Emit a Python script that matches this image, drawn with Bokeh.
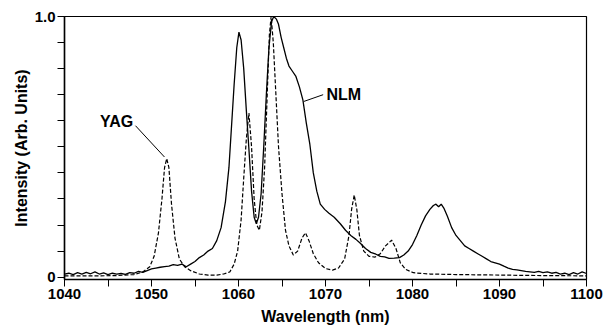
from bokeh.plotting import figure
from bokeh.models import Range1d, FixedTicker
from bokeh.core.properties import value
from bokeh.embed import file_html
from bokeh.resources import INLINE

# ---- data ----
nlm_wl = [1040, 1040.5, 1041, 1041.5, 1042, 1042.5, 1043, 1043.5, 1044, 1044.5,
          1045, 1045.5, 1046, 1046.5, 1047, 1047.5, 1048, 1048.5, 1049, 1049.5,
          1050, 1050.5, 1051, 1051.5, 1052, 1052.5, 1053, 1053.5, 1054, 1054.5,
          1055, 1055.5, 1056, 1056.5, 1057, 1057.5, 1058, 1058.5, 1058.9, 1059.2,
          1059.5, 1059.8, 1060.05, 1060.3, 1060.6, 1060.9, 1061.2, 1061.5, 1061.8, 1062.05,
          1062.3, 1062.6, 1062.9, 1063.2, 1063.5, 1063.8, 1064.05, 1064.35, 1064.6, 1064.9,
          1065.2, 1065.5, 1065.8, 1066.2, 1066.6, 1067.0, 1067.4, 1067.8, 1068.2, 1068.6,
          1069.0, 1069.4, 1069.9, 1070.4, 1071.0, 1071.7, 1072.3, 1072.9, 1073.5, 1074.0,
          1074.6, 1075.2, 1075.8, 1076.3, 1076.8, 1077.3, 1077.9, 1078.5, 1079.0, 1079.5,
          1080.0, 1080.5, 1081.0, 1081.5, 1082.0, 1082.4, 1082.7, 1083.0, 1083.3, 1083.6,
          1084.0, 1084.5, 1085.0, 1085.5, 1086.0, 1086.5, 1087.0, 1087.5, 1088.0, 1088.5,
          1089.0, 1089.5, 1090, 1090.5, 1091, 1091.5, 1092, 1092.5, 1093, 1093.5,
          1094, 1094.5, 1095, 1095.5, 1096, 1096.5, 1097, 1097.5, 1098, 1098.5,
          1099, 1099.5, 1100]
nlm_int = [0.012, 0.015, 0.010, 0.017, 0.012, 0.018, 0.013, 0.020, 0.012, 0.016,
           0.010, 0.015, 0.012, 0.014, 0.011, 0.017, 0.015, 0.022, 0.018, 0.025,
           0.032, 0.035, 0.038, 0.040, 0.042, 0.048, 0.045, 0.050, 0.040, 0.050,
           0.060, 0.075, 0.085, 0.100, 0.110, 0.140, 0.190, 0.290, 0.420, 0.580,
           0.740, 0.880, 0.940, 0.910, 0.800, 0.640, 0.490, 0.330, 0.230, 0.205,
           0.230, 0.320, 0.500, 0.700, 0.880, 0.980, 1.000, 0.990, 0.970, 0.920,
           0.880, 0.840, 0.810, 0.790, 0.770, 0.730, 0.680, 0.590, 0.510, 0.400,
           0.330, 0.280, 0.260, 0.245, 0.230, 0.205, 0.180, 0.160, 0.145, 0.130,
           0.110, 0.095, 0.088, 0.080, 0.078, 0.072, 0.073, 0.075, 0.085, 0.100,
           0.125, 0.160, 0.200, 0.235, 0.260, 0.275, 0.280, 0.270, 0.280, 0.265,
           0.235, 0.190, 0.160, 0.140, 0.120, 0.110, 0.100, 0.090, 0.080, 0.070,
           0.060, 0.055, 0.050, 0.042, 0.035, 0.030, 0.028, 0.025, 0.022, 0.020,
           0.018, 0.022, 0.017, 0.020, 0.015, 0.018, 0.012, 0.015, 0.010, 0.017,
           0.012, 0.020, 0.014]

yag_wl = [1040, 1042, 1044, 1046, 1048, 1049, 1049.8, 1050.3, 1050.8, 1051.2,
          1051.5, 1051.75, 1052.0, 1052.3, 1052.7, 1053.2, 1053.8, 1054.5, 1055.5, 1056.5,
          1057.5, 1058.3, 1059.0, 1059.5, 1059.9, 1060.3, 1060.6, 1060.9, 1061.2, 1061.5,
          1061.8, 1062.1, 1062.4, 1062.7, 1063.0, 1063.3, 1063.55, 1063.75, 1064.0, 1064.3,
          1064.6, 1065.0, 1065.4, 1065.8, 1066.3, 1066.8, 1067.3, 1067.7, 1068.1, 1068.6,
          1069.2, 1070.0, 1070.8, 1071.5, 1072.2, 1072.7, 1073.0, 1073.3, 1073.6, 1073.9,
          1074.4, 1075.0, 1075.7, 1076.3, 1076.9, 1077.6, 1078.1, 1078.6, 1079.2, 1080.1,
          1082, 1085, 1090, 1095, 1100]
yag_int = [0.005, 0.005, 0.005, 0.006, 0.010, 0.020, 0.040, 0.080, 0.170, 0.300,
           0.420, 0.455, 0.420, 0.280, 0.150, 0.070, 0.040, 0.025, 0.012, 0.008,
           0.008, 0.012, 0.020, 0.050, 0.100, 0.220, 0.380, 0.530, 0.630, 0.500,
           0.300, 0.200, 0.180, 0.250, 0.420, 0.700, 0.930, 1.000, 0.900, 0.700,
           0.500, 0.320, 0.180, 0.120, 0.085, 0.100, 0.150, 0.170, 0.140, 0.090,
           0.055, 0.033, 0.027, 0.035, 0.070, 0.160, 0.260, 0.315, 0.260, 0.160,
           0.100, 0.080, 0.077, 0.090, 0.120, 0.142, 0.110, 0.055, 0.030, 0.017,
           0.012, 0.010, 0.008, 0.006, 0.005]

x_major = [1040, 1050, 1060, 1070, 1080, 1090, 1100]
x_minor = [1045, 1055, 1065, 1075, 1085, 1095]
y_major = [0, 1]
y_minor = [0.1, 0.2, 0.3, 0.4, 0.5, 0.6, 0.7, 0.8, 0.9]
y_labels = {0: "0", 1: "1.0"}

label_text = ["YAG", "NLM"]
label_x = [1045.98, 1072.1]
label_y = [0.597, 0.700]
leader_x0 = [1048.16, 1069.73]
leader_y0 = [0.581, 0.700]
leader_x1 = [1051.49, 1067.5]
leader_y1 = [0.461, 0.674]

FONT = "Liberation Sans"

p = figure(frame_width=522, frame_height=263, output_backend="svg",
           toolbar_location=None,
           x_range=Range1d(1040, 1100), y_range=Range1d(-0.009, 1.0),
           min_border_left=64, min_border_right=25, min_border_top=16,
           min_border_bottom=46, background_fill_color="white",
           border_fill_color="white")
p.grid.visible = False
p.outline_line_color = "black"
p.outline_line_width = 1.2

p.line(yag_wl, yag_int, line_color="black", line_width=1.2, line_dash="4 2")
p.line(nlm_wl, nlm_int, line_color="black", line_width=1.3)

p.segment(x0=leader_x0, y0=leader_y0, x1=leader_x1, y1=leader_y1,
          line_color="black", line_width=1)
p.text(x=label_x, y=label_y, text=label_text, text_font=value(FONT),
       text_font_style="bold", text_font_size="16px",
       text_align="center", text_baseline="middle", text_color="black")

for ax in (p.xaxis[0], p.yaxis[0]):
    ax.axis_line_color = "black"
    ax.axis_line_width = 1.5
    ax.major_tick_line_color = "black"
    ax.minor_tick_line_color = "black"
    ax.major_tick_out = 7
    ax.major_tick_in = 0
    ax.minor_tick_out = 7
    ax.minor_tick_in = 0
    ax.major_tick_line_width = 1
    ax.minor_tick_line_width = 1
    ax.major_label_text_font = FONT
    ax.major_label_text_font_style = "bold"
    ax.major_label_text_font_size = "15px"
    ax.major_label_text_color = "black"
    ax.axis_label_text_font = FONT
    ax.axis_label_text_font_style = "bold"
    ax.axis_label_text_font_size = "16px"
    ax.axis_label_text_color = "black"
    ax.major_label_standoff = 2
    ax.axis_label_standoff = 6

p.yaxis[0].axis_label_standoff = 2
p.xaxis[0].ticker = FixedTicker(ticks=x_major, minor_ticks=x_minor)
p.yaxis[0].ticker = FixedTicker(ticks=y_major, minor_ticks=y_minor)
p.yaxis[0].major_label_overrides = y_labels
p.xaxis[0].axis_label = "Wavelength (nm)"
p.yaxis[0].axis_label = "Intensity (Arb. Units)"

open("out.html", "w").write(file_html(p, INLINE))
